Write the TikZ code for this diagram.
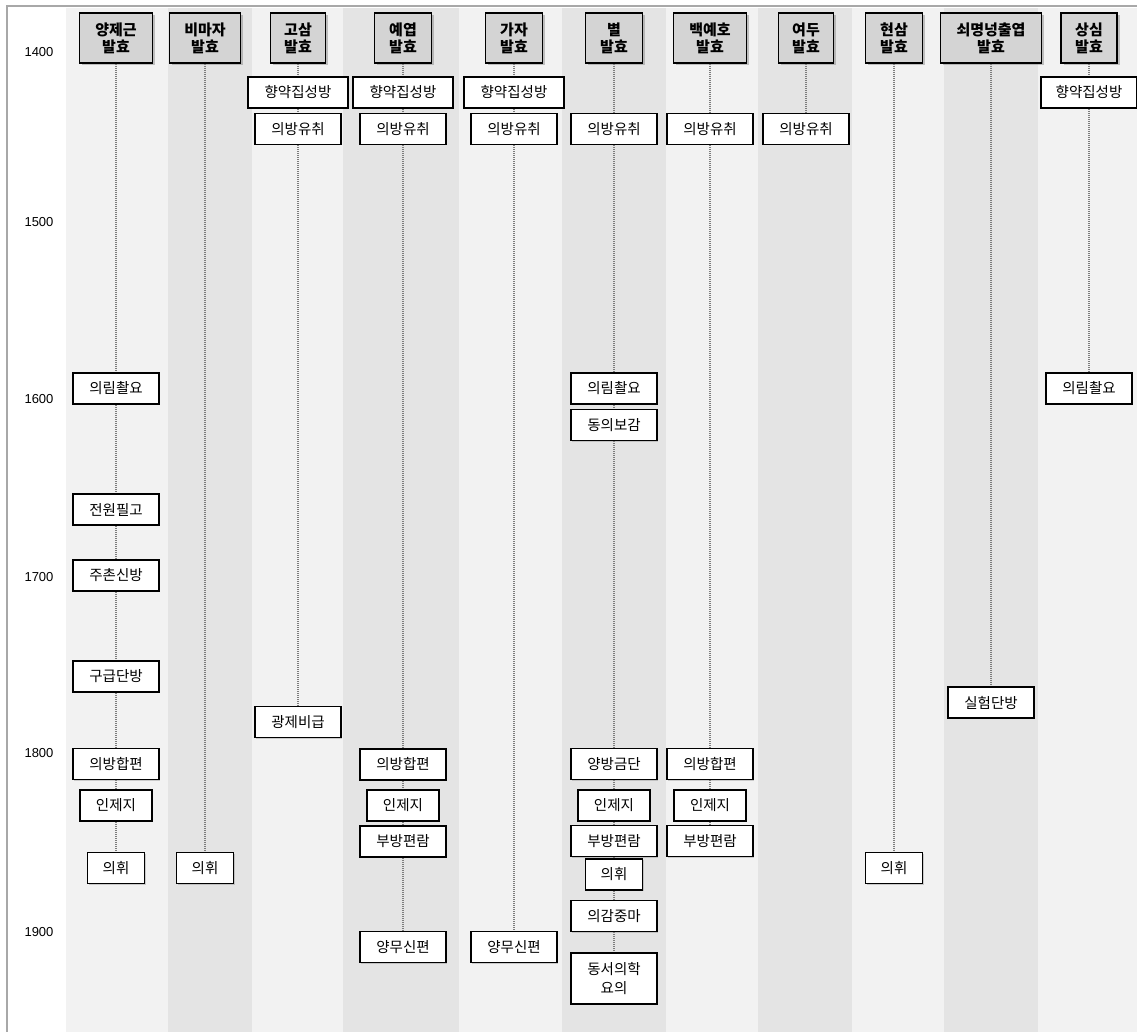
\documentclass[tikz,border=0pt]{standalone}
\usepackage{fontspec}
\setmainfont{Liberation Sans}
\newfontfamily\kr{Noto Sans CJK KR}
\usetikzlibrary{shadows}
\definecolor{bandA}{HTML}{F2F2F2}
\definecolor{bandB}{HTML}{E4E4E4}
\definecolor{framegray}{HTML}{A8A8A8}
\definecolor{hdrfill}{HTML}{D4D4D4}
\definecolor{dotgray}{HTML}{7C7C7C}
\pgfdeclarelayer{bands}
\pgfdeclarelayer{guides}
\pgfsetlayers{bands,guides,main}
\begin{document}
\begin{tikzpicture}[x=1pt,y=-1pt,
  hdr/.style={draw=black, line width=1.4pt, fill=hdrfill, minimum height=50pt,
    inner sep=0pt, align=center, font=\kr\bfseries\fontsize{15}{17}\selectfont,
    drop shadow={shadow xshift=2.5pt, shadow yshift=-2.5pt, opacity=0.45}},
  bx/.style={draw=black, line width=1.5pt, fill=white, minimum height=31pt,
    inner sep=0pt, align=center, font=\kr\fontsize{14.5}{19}\selectfont,
    drop shadow={shadow xshift=1pt, shadow yshift=-1pt, opacity=0.35}},
  w2/.style={bx, minimum width=57pt},
  w3/.style={bx, minimum width=72pt},
  w4/.style={bx, minimum width=86pt},
  w5/.style={bx, minimum width=100pt},
  yr/.style={font=\fontsize{13}{15}\selectfont, inner sep=0pt},
  conn/.style={draw=dotgray, line width=1.2pt, dash pattern=on 1pt off 1pt}]
\useasboundingbox (0,0) rectangle (1137,1032);

% column bands
\begin{pgfonlayer}{bands}
\fill[white] (0,0) rectangle (1137,1032);
\fill[bandA] (66,8)   rectangle (168,1032);
\fill[bandB] (168,8)  rectangle (252,1032);
\fill[bandA] (252,8)  rectangle (343,1032);
\fill[bandB] (343,8)  rectangle (459,1032);
\fill[bandA] (459,8)  rectangle (562,1032);
\fill[bandB] (562,8)  rectangle (666,1032);
\fill[bandA] (666,8)  rectangle (758,1032);
\fill[bandB] (758,8)  rectangle (852,1032);
\fill[bandA] (852,8)  rectangle (944,1032);
\fill[bandB] (944,8)  rectangle (1038,1032);
\fill[bandA] (1038,8) rectangle (1137,1032);
% frame
\draw[framegray, line width=2pt] (7,1032) -- (7,6) -- (1137,6);
\end{pgfonlayer}

% year axis
\node[yr] (y1400) at (39,52)  {1400};
\node[yr] (y1500) at (39,222) {1500};
\node[yr] (y1600) at (39,399) {1600};
\node[yr] (y1700) at (39,577) {1700};
\node[yr] (y1800) at (39,753) {1800};
\node[yr] (y1900) at (39,932) {1900};

% column headers
\node[hdr, minimum width=73pt]  (h1)  at (116,38)  {양제근\\발효};
\node[hdr, minimum width=71pt]  (h2)  at (205,38)  {비마자\\발효};
\node[hdr, minimum width=55pt]  (h3)  at (298,38)  {고삼\\발효};
\node[hdr, minimum width=57pt]  (h4)  at (403,38)  {예엽\\발효};
\node[hdr, minimum width=57pt]  (h5)  at (514,38)  {가자\\발효};
\node[hdr, minimum width=57pt]  (h6)  at (614,38)  {별\\발효};
\node[hdr, minimum width=73pt]  (h7)  at (710,38)  {백예호\\발효};
\node[hdr, minimum width=55pt]  (h8)  at (806,38)  {여두\\발효};
\node[hdr, minimum width=57pt]  (h9)  at (894,38)  {현삼\\발효};
\node[hdr, minimum width=101pt] (h10) at (991,38)  {쇠명넝출엽\\발효};
\node[hdr, minimum width=56pt]  (h11) at (1089,38) {상심\\발효};

% 양제근
\node[w4] (a1) at (116,388.5) {의림촬요};
\node[w4] (a2) at (116,509.5) {전원필고};
\node[w4] (a3) at (116,575.5) {주촌신방};
\node[w4] (a4) at (116,676.5) {구급단방};
\node[w4] (a5) at (116,764)   {의방합편};
\node[w3] (a6) at (116,805.5) {인제지};
\node[w2] (a7) at (116,868)   {의휘};

% 비마자
\node[w2] (b1) at (205,868) {의휘};

% 고삼
\node[w5] (c1) at (298,92.5) {향약집성방};
\node[w4] (c2) at (298,129)  {의방유취};
\node[w4] (c3) at (298,722)  {광제비급};

% 예엽
\node[w5] (d1) at (403,92.5)  {향약집성방};
\node[w4] (d2) at (403,129)   {의방유취};
\node[w4] (d3) at (403,764.5) {의방합편};
\node[w3] (d4) at (403,805.5) {인제지};
\node[w4] (d5) at (403,841.5) {부방편람};
\node[w4] (d6) at (403,947)   {양무신편};

% 가자
\node[w5] (e1) at (514,92.5) {향약집성방};
\node[w4] (e2) at (514,129)  {의방유취};
\node[w4] (e3) at (514,947)  {양무신편};

% 별
\node[w4] (f1) at (614,129)   {의방유취};
\node[w4] (f2) at (614,388.5) {의림촬요};
\node[w4] (f3) at (614,425)   {동의보감};
\node[w4] (f4) at (614,764)   {양방금단};
\node[w3] (f5) at (614,805.5) {인제지};
\node[w4] (f6) at (614,841)   {부방편람};
\node[w2] (f7) at (614,874.5) {의휘};
\node[w4] (f8) at (614,916)   {의감중마};
\node[w4, minimum height=51pt] (f9) at (614,978.5) {동서의학\\요의};

% 백예호
\node[w4] (g1) at (710,129)   {의방유취};
\node[w4] (g2) at (710,764)   {의방합편};
\node[w3] (g3) at (710,805.5) {인제지};
\node[w4] (g4) at (710,841)   {부방편람};

% 여두
\node[w4] (k1) at (806,129) {의방유취};

% 현삼
\node[w2] (m1) at (894,868) {의휘};

% 쇠명넝출엽
\node[w4] (n1) at (991,702.5) {실험단방};

% 상심
\node[w5, minimum width=96pt] (p1) at (1089,92.5)  {향약집성방};
\node[w4] (p2) at (1089,388.5) {의림촬요};

% dotted guide lines running down each column, behind the boxes
\begin{pgfonlayer}{guides}
\draw[conn] (h1) -- (a1) -- (a2) -- (a3) -- (a4) -- (a5) -- (a6) -- (a7);
\draw[conn] (h2) -- (b1);
\draw[conn] (h3) -- (c1) -- (c2) -- (c3);
\draw[conn] (h4) -- (d1) -- (d2) -- (d3) -- (d4) -- (d5) -- (d6);
\draw[conn] (h5) -- (e1) -- (e2) -- (e3);
\draw[conn] (h6) -- (f1) -- (f2) -- (f3) -- (f4) -- (f5) -- (f6) -- (f7) -- (f8) -- (f9);
\draw[conn] (h7) -- (g1) -- (g2) -- (g3) -- (g4);
\draw[conn] (h8) -- (k1);
\draw[conn] (h9) -- (m1);
\draw[conn] (h10) -- (n1);
\draw[conn] (h11) -- (p1) -- (p2);
\end{pgfonlayer}
\end{tikzpicture}
\end{document}
